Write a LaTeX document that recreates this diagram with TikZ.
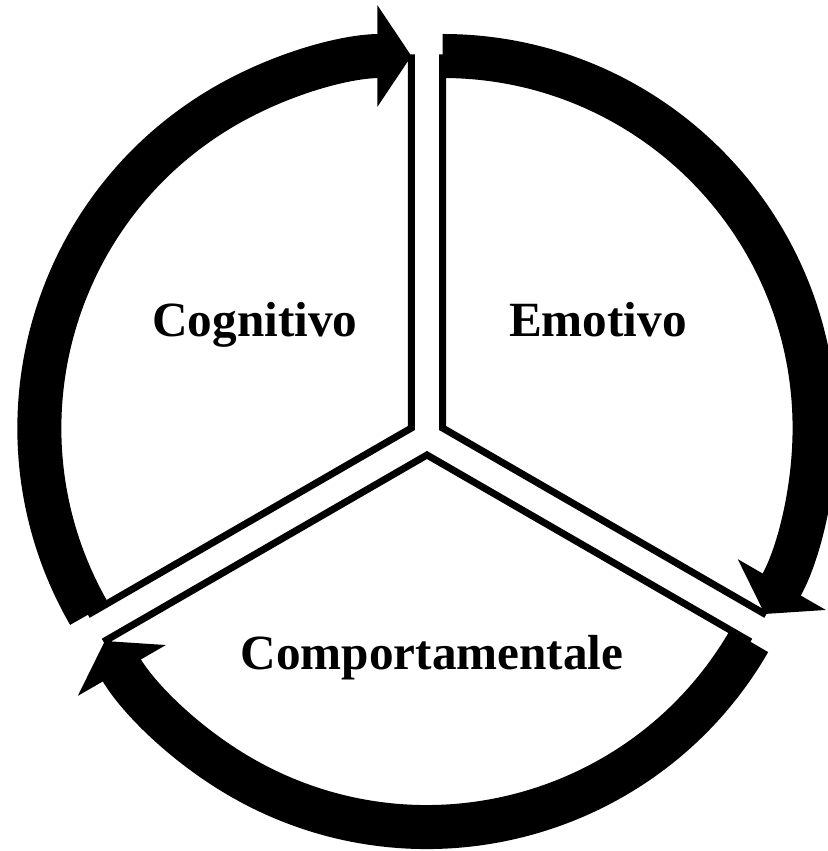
\documentclass[tikz,border=0pt]{standalone}
\usepackage{fontspec}
\setmainfont{Liberation Serif}
\usetikzlibrary{arrows.meta}

\begin{document}
\begin{tikzpicture}[
	x=0.025cm, y=0.025cm,
	font=\fontsize{35}{42}\selectfont\bfseries,
	sector/.style={
		draw=black,
		line width=0.175cm,
		fill=white
	},
	band/.style={
		draw=black,
		line width=1.1cm,
		-{Triangle[length=0.85cm, width=2.5cm]}
	},
	label/.style={
		anchor=base,
		text=black
	}
	]
	
	\useasboundingbox (0,0) rectangle (828,851);
	
	% apexes of the three pieces, pushed out from the middle
	\coordinate (mid) at (427,414);
	\coordinate (cog) at ([shift={(150:18)}]mid);
	\coordinate (emo) at ([shift={(30:18)}]mid);
	\coordinate (beh) at ([shift={(270:18)}]mid);
	
	\draw[sector] (cog) -- ++(90:370) arc[start angle=90, end angle=210, radius=370] -- cycle;
	\draw[sector] (emo) -- ++(90:370) arc[start angle=90, end angle=-30, radius=370] -- cycle;
	\draw[sector] (beh) -- ++(210:370) arc[start angle=210, end angle=330, radius=370] -- cycle;
	
	\draw[band] ([shift={(210:372)}]cog) arc[start angle=210, end angle=90, radius=372];
	\draw[band] ([shift={(90:372)}]emo) arc[start angle=90, end angle=-30, radius=372];
	\draw[band] ([shift={(-30:372)}]beh) arc[start angle=-30, end angle=-150, radius=372];
	
	\node[label] (cogtext) at (255,514) {Cognitivo};
	\node[label] (emotext) at (598,514) {Emotivo};
	\node[label] (behtext) at (432,181) {Comportamentale};
\end{tikzpicture}
\end{document}
